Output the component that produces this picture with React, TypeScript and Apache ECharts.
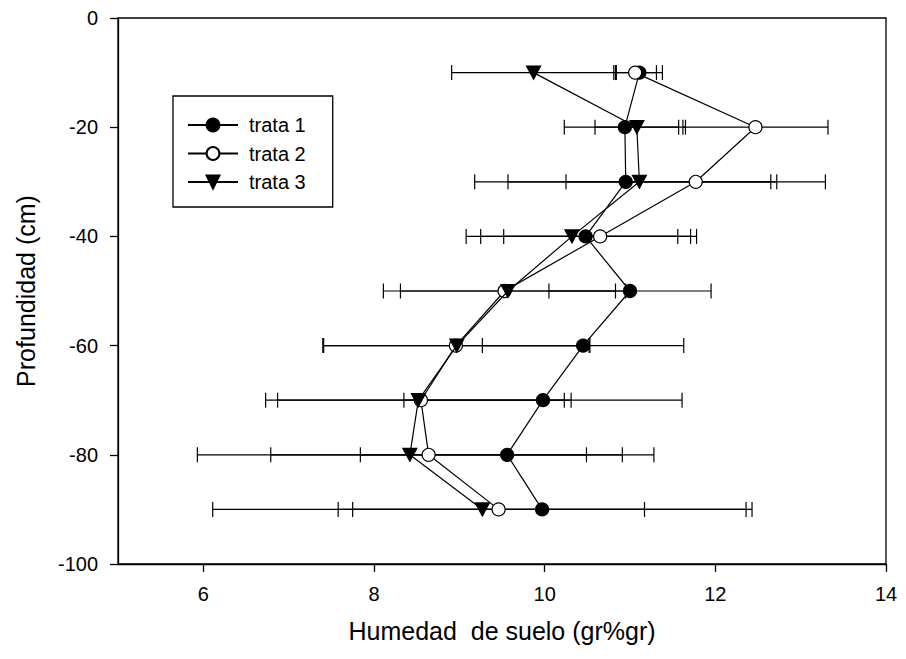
import React, { useEffect, useRef } from "react";
import * as echarts from "echarts";

const depths = [-10, -20, -30, -40, -50, -60, -70, -80, -90];
const trata1 = [11.11, 10.94, 10.95, 10.48, 11.0, 10.45, 9.98, 9.56, 9.97];
const trata1Err = [0.27, 0.71, 1.77, 1.23, 0.95, 1.18, 1.63, 1.72, 2.39];
const trata2 = [11.06, 12.47, 11.77, 10.65, 9.53, 8.96, 8.55, 8.64, 9.46];
const trata2Err = [0.25, 0.85, 1.52, 1.13, 1.42, 1.56, 1.68, 1.85, 1.71];
const trata3 = [9.87, 11.08, 11.11, 10.32, 9.57, 8.97, 8.52, 8.42, 9.27];
const trata3Err = [0.96, 0.49, 1.54, 1.24, 1.26, 1.56, 1.79, 2.49, 3.16];
const xTicks = [6, 8, 10, 12, 14];
const seriesNames = ["trata 1", "trata 2", "trata 3"];

const FONT = "'Liberation Sans', Arial, sans-serif";

function errData(vals: number[], errs: number[]) {
  return vals.map((v, i) => [v - errs[i], v + errs[i], depths[i]]);
}
function lineData(vals: number[]) {
  return vals.map((v, i) => [v, depths[i]]);
}

const renderErr = (params: any, api: any) => {
  const lo = api.coord([api.value(0), api.value(2)]);
  const hi = api.coord([api.value(1), api.value(2)]);
  const h = 7.5;
  const style = { stroke: "#000", lineWidth: 1.2 };
  return {
    type: "group",
    children: [
      { type: "line", shape: { x1: lo[0], y1: lo[1], x2: hi[0], y2: hi[1] }, style },
      { type: "line", shape: { x1: lo[0], y1: lo[1] - h, x2: lo[0], y2: lo[1] + h }, style },
      { type: "line", shape: { x1: hi[0], y1: hi[1] - h, x2: hi[0], y2: hi[1] + h }, style },
    ],
  };
};

export default function App() {
  const ref = useRef<HTMLDivElement>(null);
  useEffect(() => {
    if (!ref.current) return;
    const chart = echarts.init(ref.current, null, { renderer: "svg" });
    const errs = [
      errData(trata1, trata1Err),
      errData(trata2, trata2Err),
      errData(trata3, trata3Err),
    ];
    const vals = [trata1, trata2, trata3];
    const symbols = ["circle", "circle", "path://M0,0L20,0L10,18Z"];
    const sizes: any[] = [13, 13, [14, 13]];
    const fills = ["#000", "#fff", "#000"];
    const series: any[] = [];
    errs.forEach((d, i) => {
      series.push({
        type: "custom",
        name: "err" + i,
        data: d,
        encode: { x: [0, 1], y: 2 },
        renderItem: renderErr,
        z: 2,
        silent: true,
      });
    });
    vals.forEach((v, i) => {
      series.push({
        type: "line",
        name: seriesNames[i],
        data: lineData(v),
        symbol: symbols[i],
        symbolSize: sizes[i],
        showAllSymbol: true,
        itemStyle: { color: fills[i], borderColor: "#000", borderWidth: 1.2, opacity: 1 },
        lineStyle: { color: "#000", width: 1.2 },
        z: 3 + i,
      });
    });
    chart.setOption({
      animation: false,
      backgroundColor: "#fff",
      textStyle: { fontFamily: FONT, color: "#000" },
      grid: {
        left: 118,
        right: 20,
        top: 18,
        bottom: 95,
        show: true,
        borderColor: "#000",
        borderWidth: 1.3,
        containLabel: false,
      },
      legend: {
        data: seriesNames,
        orient: "vertical",
        left: 173,
        top: 96,
        padding: [19, 27, 15, 14],
        itemWidth: 50,
        itemHeight: 16,
        itemGap: 8.5,
        borderColor: "#000",
        borderWidth: 1.3,
        borderRadius: 0,
        backgroundColor: "#fff",
        textStyle: { fontSize: 20, fontFamily: FONT, color: "#000", padding: [0, 0, 0, 6] },
      },
      xAxis: {
        type: "value",
        min: 5,
        max: 14,
        name: "Humedad  de suelo (gr%gr)",
        nameLocation: "middle",
        nameGap: 54,
        nameTextStyle: { fontSize: 25, fontFamily: FONT, color: "#000" },
        axisLine: { show: true, onZero: false, lineStyle: { color: "#000", width: 1.3 } },
        axisTick: { show: true, length: 8, customValues: xTicks, lineStyle: { color: "#000", width: 1.3 } },
        axisLabel: { customValues: xTicks, fontSize: 20, margin: 20, color: "#000", fontFamily: FONT },
        splitLine: { show: false },
      },
      yAxis: {
        type: "value",
        min: -100,
        max: 0,
        interval: 20,
        name: "Profundidad (cm)",
        nameLocation: "middle",
        nameGap: 80,
        nameTextStyle: { fontSize: 25, fontFamily: FONT, color: "#000" },
        axisLine: { show: true, onZero: false, lineStyle: { color: "#000", width: 1.3 } },
        axisTick: { show: true, length: 8, lineStyle: { color: "#000", width: 1.3 } },
        axisLabel: { fontSize: 20, margin: 20, color: "#000", fontFamily: FONT },
        splitLine: { show: false },
      },
      series,
    });
    return () => chart.dispose();
  }, []);
  return (
    <div
      ref={ref}
      style={{ position: "absolute", left: 0, top: 0, width: 906, height: 659 }}
    />
  );
}
